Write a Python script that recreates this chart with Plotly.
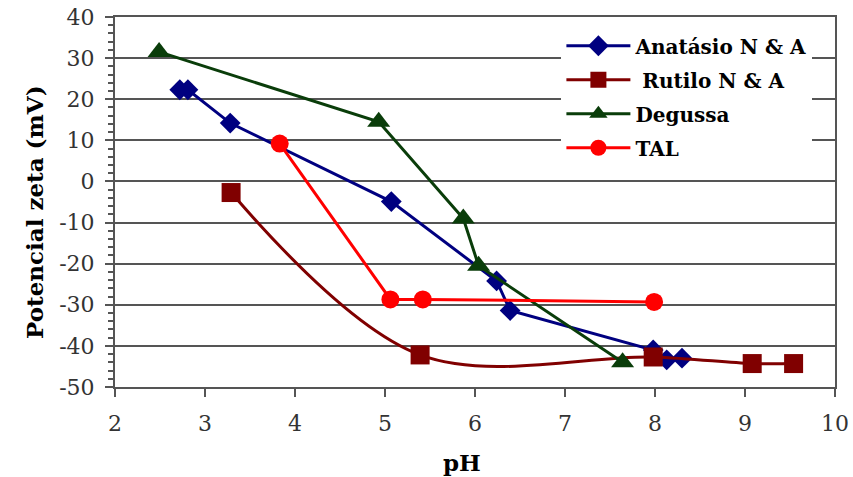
import plotly.graph_objects as go

anat_ph = [2.72, 2.81, 3.28, 5.07, 6.24, 6.39, 7.98, 8.13, 8.30]
anat_z = [22.3, 22.3, 14.2, -4.9, -24.2, -31.4, -41.0, -43.4, -43.0]

rut_ph = [3.29, 5.39, 7.98, 9.08, 9.54]
rut_z = [-2.7, -42.2, -42.7, -44.3, -44.3]

deg_ph = [2.49, 4.93, 5.87, 6.04, 7.64]
deg_z = [31.5, 14.5, -9.0, -20.5, -44.0]

tal_ph = [3.83, 5.06, 5.42, 7.99]
tal_z = [9.2, -28.7, -28.7, -29.3]

names = ["Anatásio N & A", " Rutilo N & A", "Degussa", "TAL"]

y_ticks = [40, 30, 20, 10, 0, -10, -20, -30, -40, -50]
y_ticklabels = ["40", "30", "20", "10", "0", "-10", "-20", "-30", "-40", "-50"]
x_ticks = [2, 3, 4, 5, 6, 7, 8, 9, 10]
x_ticklabels = ["2", "3", "4", "5", "6", "7", "8", "9", "10"]

SERIF = "DejaVu Serif"

fig = go.Figure()
fig.add_trace(go.Scatter(x=anat_ph, y=anat_z, name="<b>%s</b>" % names[0], mode="lines+markers",
                         legendgroup="a",
                         line=dict(color="#000080", width=3),
                         marker=dict(symbol="diamond", size=16, color="#000080")))
fig.add_trace(go.Scatter(x=rut_ph, y=rut_z, name="<b>%s</b>" % names[1], mode="lines+markers",
                         legendgroup="b",
                         line=dict(color="#800000", width=3, shape="spline", smoothing=1),
                         marker=dict(symbol="square", size=19, color="#800000")))
fig.add_trace(go.Scatter(x=deg_ph, y=deg_z, name="<b>%s</b>" % names[2], mode="lines+markers",
                         legendgroup="c",
                         line=dict(color="#0a3d0a", width=3),
                         marker=dict(symbol="triangle-up", size=20, color="#0a3d0a")))
fig.add_trace(go.Scatter(x=tal_ph, y=tal_z, name="<b>%s</b>" % names[3], mode="lines+markers",
                         legendgroup="d",
                         line=dict(color="#ff0000", width=3),
                         marker=dict(symbol="circle", size=18, color="#ff0000")))

tickfont = dict(family=SERIF, size=22, color="#333333")
fig.update_layout(
    width=853, height=477,
    margin=dict(l=115, r=18, t=17, b=90, autoexpand=False),
    paper_bgcolor="white", plot_bgcolor="white",
    showlegend=True,
    legend=dict(x=0.62, y=0.975, xanchor="left", yanchor="top",
                bgcolor="white", borderwidth=0,
                font=dict(family=SERIF, size=20, color="black"),
                itemwidth=64, tracegroupgap=5),
    xaxis=dict(range=[2, 10], tickvals=x_ticks, ticktext=x_ticklabels,
               showgrid=False, zeroline=False, automargin=False,
               showline=True, linecolor="#555", linewidth=2, mirror=True,
               ticks="outside", ticklen=8, tickwidth=2, tickcolor="#555",
               ticklabelstandoff=8,
               tickfont=tickfont),
    yaxis=dict(range=[-50, 40], tickvals=y_ticks, ticktext=y_ticklabels,
               showgrid=True, gridcolor="#555", gridwidth=2,
               automargin=False,
               zeroline=False, showline=True, linecolor="#555", linewidth=2, mirror=True,
               ticks="outside", ticklen=8, tickwidth=2, tickcolor="#555",
               ticklabelstandoff=6,
               minor=dict(dtick=2, ticks="outside", ticklen=5, tickcolor="#555", tickwidth=1.5, showgrid=False),
               tickfont=tickfont),
    annotations=[
        dict(text="<b>pH</b>", showarrow=False, xref="paper", yref="paper",
             font=dict(family=SERIF, size=23, color="black")),
        dict(text="<b>Potencial zeta (mV)</b>", xref="paper", yref="paper", showarrow=False,
             textangle=-90, font=dict(family=SERIF, size=23, color="black")),
    ],
)
pw, ph = 853 - 115 - 18, 477 - 17 - 90
fig.layout.annotations[0].update(x=(462 - 115) / pw, y=(387 - 462) / ph, xanchor="center", yanchor="middle")
fig.layout.annotations[1].update(x=(35 - 115) / pw, y=(387 - 212) / ph, xanchor="center", yanchor="middle")

fig.write_html("out.html")
